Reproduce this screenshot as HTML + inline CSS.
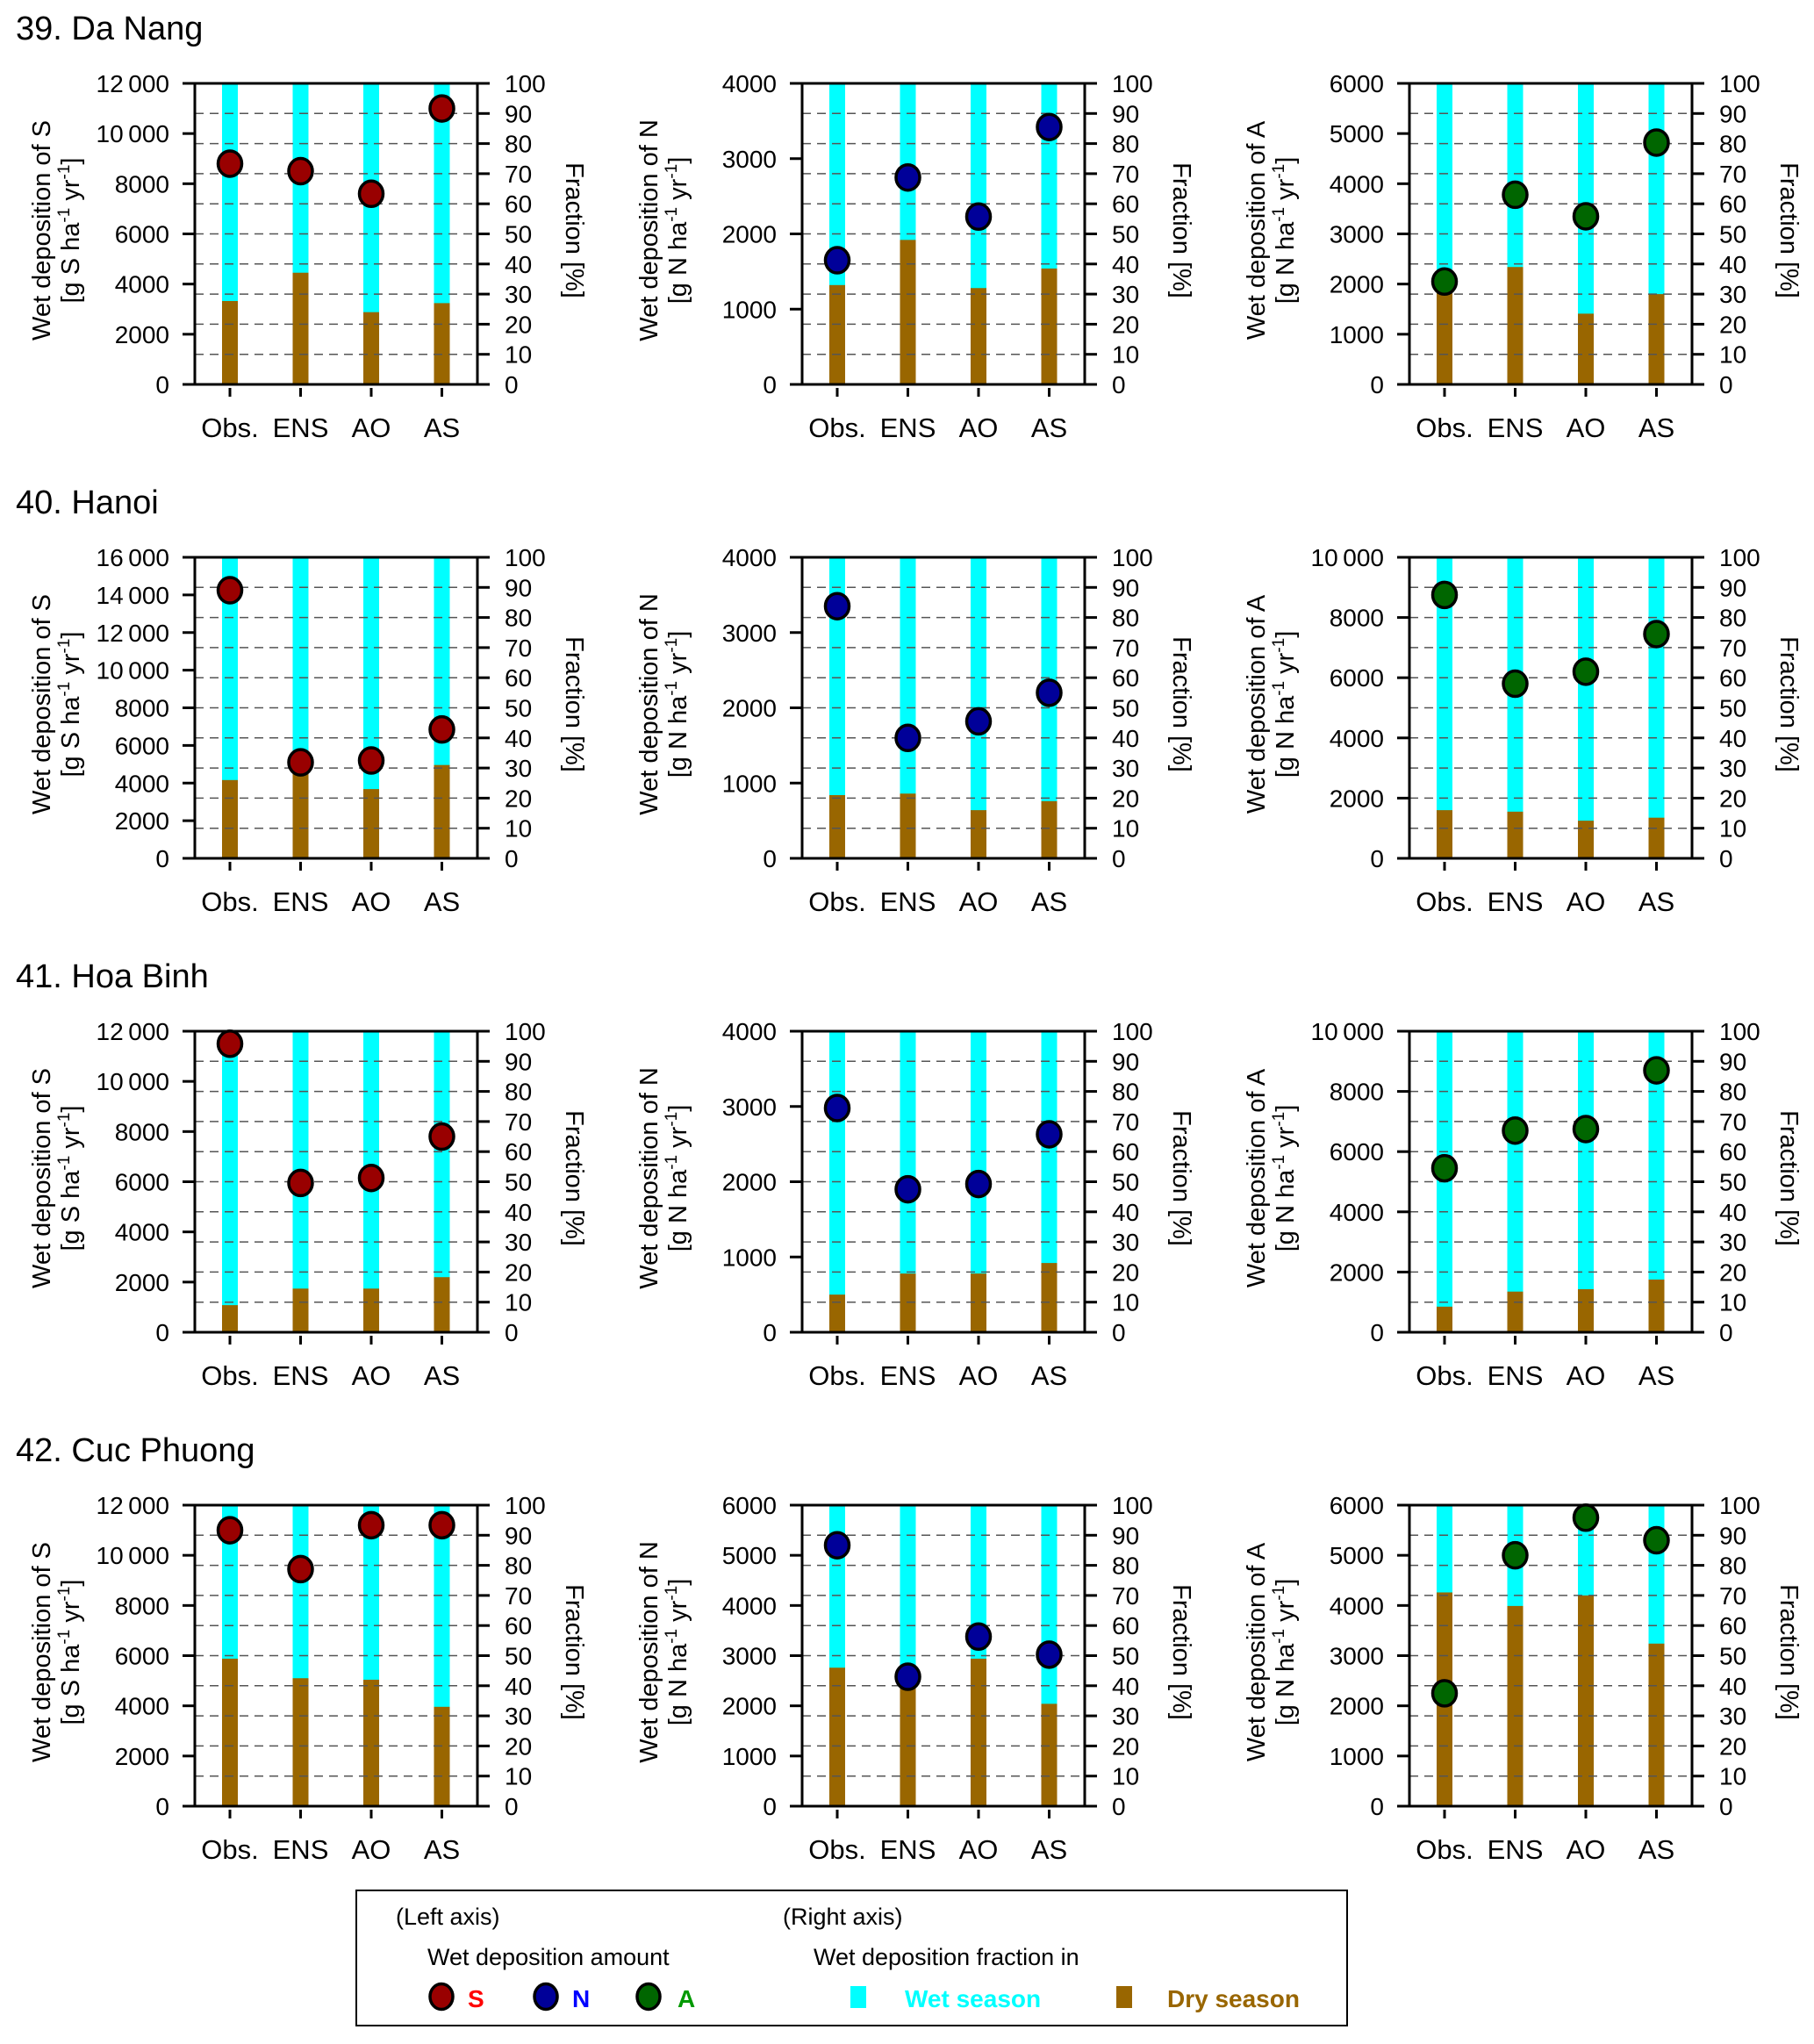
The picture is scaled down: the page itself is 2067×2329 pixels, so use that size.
<!DOCTYPE html>
<html><head><meta charset="utf-8"><style>
html,body{margin:0;padding:0;background:#fff;}
svg{display:block;font-family:"Liberation Sans",Arial,sans-serif;}
</style></head><body>
<svg id="fig" width="2067" height="2329" viewBox="0 0 2067 2329" xmlns="http://www.w3.org/2000/svg"></svg>
<script>
const categories = ["Obs.", "ENS", "AO", "AS"];
const stations = ["39. Da Nang", "40. Hanoi", "41. Hoa Binh", "42. Cuc Phuong"];
const species = ["S", "N", "A"];
const unitLetter = ["S", "N", "N"];
const markerColors = ["#990000", "#000099", "#006600"];
// left axis max per [station][species]
const leftMax = [[12000,4000,6000],[16000,4000,10000],[12000,4000,10000],[12000,6000,6000]];
const leftStep = [[2000,1000,1000],[2000,1000,2000],[2000,1000,2000],[2000,1000,1000]];
// wet deposition amount (left axis)
const amountDaNang = [[8800,8500,7600,11000],[1650,2750,2230,3420],[2050,3780,3350,4820]];
const amountHanoi = [[14250,5100,5200,6850],[3350,1600,1820,2200],[8750,5800,6200,7450]];
const amountHoaBinh = [[11500,5950,6150,7800],[2980,1900,1970,2630],[5450,6700,6750,8700]];
const amountCucPhuong = [[11000,9450,11200,11200],[5200,2580,3380,3020],[2250,5000,5750,5300]];
// dry season fraction % (right axis)
const dryDaNang = [[27.7,37.1,24,27],[33,48,32,38.5],[31,39,23.5,30]];
const dryHanoi = [[26,29,23,31],[21,21.5,16,19],[16,15.5,12.5,13.5]];
const dryHoaBinh = [[9,14.5,14.5,18.3],[12.5,19.5,19.5,23],[8.5,13.5,14.3,17.5]];
const dryCucPhuong = [[49,42.5,42,33],[46,40,49,34],[71,66.5,70,54]];
const fracTicks = [0,10,20,30,40,50,60,70,80,90,100];

const amounts = [amountDaNang, amountHanoi, amountHoaBinh, amountCucPhuong];
const drys = [dryDaNang, dryHanoi, dryHoaBinh, dryCucPhuong];

const NS = "http://www.w3.org/2000/svg";
const svg = document.getElementById("fig");
function mk(tag, attrs, parent, text){
  const e = document.createElementNS(NS, tag);
  for (const k in attrs) e.setAttribute(k, attrs[k]);
  if (text !== undefined) e.textContent = text;
  (parent||svg).appendChild(e);
  return e;
}
function fmt(v){ return v >= 10000 ? String(Math.floor(v/1000)) + "\u2009" + String(v%1000).padStart(3,"0") : String(v); }

const PW = 322, PH = 343, L0 = 222, T0 = 95, COLSTEP = 692, ROWSTEP = 540;
const barOff = 40, barSp = 80.5, barW = 18;

for (let r = 0; r < 4; r++) {
  const top = T0 + r*ROWSTEP, bot = top + PH;
  const t = mk("text", {x:18, y:top-50, "font-size":38, fill:"#000"}, svg, stations[r]);
  
  
  for (let c = 0; c < 3; c++) {
    const L = L0 + c*COLSTEP, R = L + PW;
    const g = mk("g", {}, svg);
    
    
    const ymax = leftMax[r][c];
    const yL = v => bot - v/ymax*PH;
    const yF = f => bot - f/100*PH;
    const xB = i => L + barOff + i*barSp;
    categories.forEach((cat, i) => {
      const wet = mk("rect", {x:xB(i)-barW/2, y:top, width:barW, height:PH, fill:"#00ffff"}, g);
      
      
      const d = drys[r][c][i];
      const dry = mk("rect", {x:xB(i)-barW/2, y:yF(d), width:barW, height:bot-yF(d), fill:"#996600"}, g);
      
      
    });
    fracTicks.forEach(f => {
      if (f === 0 || f === 100) return;
      const gl = mk("line", {x1:L, x2:R, y1:yF(f), y2:yF(f), stroke:"#555", "stroke-width":1.5, "stroke-dasharray":"10 7"}, g);
      
      
    });
    const ax = mk("path", {d:`M${L-14} ${top}H${R+14}M${L-14} ${bot}H${R+14}M${L} ${top}V${bot}M${R} ${top}V${bot}`, stroke:"#000", "stroke-width":3, fill:"none"}, g);
    
    
    for (let v = 0; v <= ymax; v += leftStep[r][c]) {
      mk("line", {x1:L-14, x2:L, y1:yL(v), y2:yL(v), stroke:"#000", "stroke-width":3}, g);
      const tl = mk("text", {x:L-29, y:yL(v)+10, "font-size":28, "text-anchor":"end"}, g, fmt(v));
      
      
    }
    fracTicks.forEach(f => {
      mk("line", {x1:R, x2:R+14, y1:yF(f), y2:yF(f), stroke:"#000", "stroke-width":3}, g);
      const tr = mk("text", {x:R+31, y:yF(f)+10, "font-size":28}, g, String(f));
      
      
    });
    categories.forEach((cat, i) => {
      mk("line", {x1:xB(i), x2:xB(i), y1:bot+4, y2:bot+14, stroke:"#000", "stroke-width":3}, g);
      const xl = mk("text", {x:xB(i), y:bot+60, "font-size":31, "text-anchor":"middle"}, g, cat);
      
      
    });
    categories.forEach((cat, i) => {
      const v = amounts[r][c][i];
      const m = mk("ellipse", {cx:xB(i), cy:yL(v), rx:13.5, ry:14.5, fill:markerColors[c], stroke:"#000", "stroke-width":3.5}, g);
      
      
    });
    const cy = top + PH/2 - 4;
    const yt1 = mk("text", {x:0, y:0, "font-size":29, "text-anchor":"middle", transform:`translate(${L-165},${cy}) rotate(-90)`}, g, "Wet deposition of " + species[c]);
    
    
    const yt2 = mk("text", {x:0, y:0, "font-size":29, "text-anchor":"middle", transform:`translate(${L-132},${cy}) rotate(-90)`}, g);
    
    
    mk("tspan", {}, yt2, "[g " + unitLetter[c] + " ha");
    mk("tspan", {dy:-11, "font-size":19}, yt2, "-1");
    mk("tspan", {dy:11}, yt2, " yr");
    mk("tspan", {dy:-11, "font-size":19}, yt2, "-1");
    mk("tspan", {dy:11}, yt2, "]");
    const ft = mk("text", {x:0, y:0, "font-size":29, "text-anchor":"middle", transform:`translate(${R+101},${cy}) rotate(90)`}, g, "Fraction [%]");
    
    
  }
}

const lg = mk("g", {}, svg);


mk("rect", {x:406, y:2154, width:1129, height:154, fill:"#fff", stroke:"#000", "stroke-width":2}, lg);
function lt(x, y, s, extra){ const e = mk("text", Object.assign({x:x, y:y, "font-size":27}, extra||{}), lg, s); return e; }
lt(451, 2193, "(Left axis)");
lt(892, 2193, "(Right axis)");
lt(487, 2239, "Wet deposition amount");
lt(927, 2239, "Wet deposition fraction in");
const legendMarkers = [[503,533,"#990000","#ff0000","S"],[622,652,"#000099","#0000ff","N"],[739,772,"#006600","#009900","A"]];
legendMarkers.forEach(m => {
  const c = mk("ellipse", {cx:m[0], cy:2275, rx:13, ry:14.5, fill:m[2], stroke:"#000", "stroke-width":3.5}, lg);
  
  
  lt(m[1], 2287, m[4], {fill:m[3], "font-weight":"bold", "font-size":28});
});
const ws = mk("rect", {x:969, y:2263, width:18, height:25, fill:"#00ffff"}, lg);


lt(1031, 2287, "Wet season", {fill:"#00ffff", "font-weight":"bold", "font-size":28});
const ds = mk("rect", {x:1272, y:2263, width:18, height:25, fill:"#996600"}, lg);


lt(1330, 2287, "Dry season", {fill:"#996600", "font-weight":"bold", "font-size":28});
</script>
</body></html>
